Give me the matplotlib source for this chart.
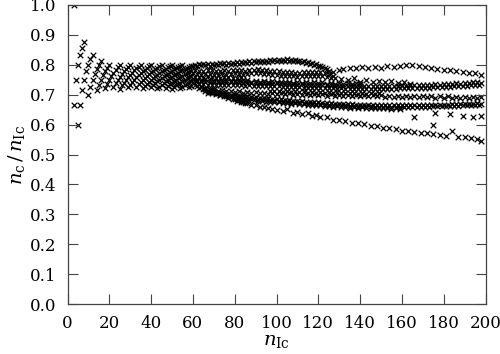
import numpy as np
import matplotlib.pyplot as plt

plt.rcParams['font.family'] = 'DejaVu Serif'
plt.rcParams['mathtext.fontset'] = 'dejavuserif'

# small n_Ic: the n_c counts seen in each column
early_nIc = list(range(3, 60))
early_nc = [
    [2, 3], [3], [3, 4], [4, 5], [5, 6], [6, 7], [7], [7, 8], [8, 9], [9, 10],
    [10], [10, 11], [11, 12], [12, 13], [13], [13, 14], [14, 15], [15, 16], [16], [16, 17],
    [17, 18], [18, 19], [18, 19, 20], [19, 20], [20, 21], [21, 22], [21, 22, 23], [22, 23, 24], [23, 24], [24, 25],
    [24, 25, 26], [25, 26, 27], [26, 27, 28], [26, 27, 28], [27, 28, 29], [28, 29, 30], [29, 30, 31], [29, 30, 31, 32], [30, 31, 32], [31, 32, 33],
    [31, 32, 33, 34], [32, 33, 34, 35], [33, 34, 35, 36], [34, 35, 36], [34, 35, 36, 37], [35, 36, 37, 38], [36, 37, 38, 39], [36, 37, 38, 39, 40], [37, 38, 39, 40], [38, 39, 40, 41],
    [39, 40, 41, 42], [39, 40, 41, 42, 43], [40, 41, 42, 43, 44], [41, 42, 43, 44], [42, 43, 44, 45], [42, 43, 44, 45, 46], [43, 44, 45, 46, 47],
]

# larger n_Ic: the ratio falls into bands
top_x = list(range(60, 126)) + [127, 130, 132, 135, 138, 141, 144, 147, 150, 153, 156, 159, 162,
                                165, 168, 171, 174, 177, 180, 183, 186, 189, 192, 195, 198]
top_y = [0.797, 0.800, 0.795, 0.801, 0.798, 0.803, 0.799, 0.802, 0.797, 0.803,
         0.800, 0.804, 0.798, 0.805, 0.801, 0.806, 0.800, 0.805, 0.802, 0.807,
         0.803, 0.808, 0.804, 0.809, 0.805, 0.810, 0.806, 0.811, 0.807, 0.812,
         0.808, 0.812, 0.809, 0.813, 0.810, 0.814, 0.810, 0.815, 0.811, 0.815,
         0.812, 0.816, 0.813, 0.817, 0.813, 0.818, 0.814, 0.817, 0.813, 0.816,
         0.811, 0.814, 0.809, 0.812, 0.806, 0.809, 0.803, 0.806, 0.800, 0.802,
         0.796, 0.797, 0.791, 0.790, 0.785, 0.780,
         0.776, 0.782, 0.786, 0.789, 0.790, 0.792, 0.788, 0.794, 0.790, 0.795, 0.792, 0.797, 0.799,
         0.798, 0.795, 0.791, 0.789, 0.786, 0.783, 0.781, 0.778, 0.776, 0.774, 0.771, 0.766]

upper_x = list(range(60, 129)) + [131, 134, 137, 140, 143, 146, 149, 152, 155, 158, 161, 164]
upper_y = [0.772, 0.782, 0.768, 0.780, 0.766, 0.779, 0.770, 0.783, 0.769, 0.781,
           0.767, 0.780, 0.766, 0.779, 0.771, 0.782, 0.767, 0.780, 0.770, 0.784,
           0.771, 0.782, 0.768, 0.781, 0.767, 0.780, 0.770, 0.783, 0.772, 0.784,
           0.773, 0.785, 0.774, 0.784, 0.770, 0.782, 0.768, 0.780, 0.767, 0.779,
           0.766, 0.778, 0.764, 0.777, 0.763, 0.776, 0.762, 0.775, 0.761, 0.774,
           0.760, 0.774, 0.761, 0.775, 0.762, 0.776, 0.763, 0.777, 0.764, 0.776,
           0.763, 0.775, 0.761, 0.772, 0.760, 0.769, 0.757, 0.764, 0.755,
           0.752, 0.748, 0.755, 0.744, 0.750, 0.742, 0.746, 0.741, 0.745, 0.739, 0.742, 0.737]

mid_hi_x = list(range(60, 85))
mid_hi_y = [0.752, 0.760, 0.748, 0.759, 0.747, 0.757, 0.751, 0.761, 0.748, 0.758,
            0.747, 0.757, 0.746, 0.756, 0.750, 0.759, 0.749, 0.758, 0.747, 0.757,
            0.746, 0.756, 0.750, 0.758, 0.749]

mid_x = list(range(60, 199))
mid_y = [0.742, 0.734, 0.745, 0.735, 0.746, 0.736, 0.744, 0.733, 0.743, 0.734,
         0.744, 0.734, 0.743, 0.733, 0.742, 0.732, 0.743, 0.733, 0.741, 0.732,
         0.742, 0.732, 0.741, 0.731, 0.740, 0.730, 0.741, 0.731, 0.740, 0.730,
         0.739, 0.730, 0.740, 0.729, 0.738, 0.728, 0.739, 0.729, 0.737, 0.728,
         0.738, 0.728, 0.737, 0.727, 0.736, 0.726, 0.735, 0.726, 0.736, 0.725,
         0.734, 0.725, 0.735, 0.724, 0.733, 0.724, 0.734, 0.723, 0.732, 0.723,
         0.733, 0.723, 0.732, 0.722, 0.731, 0.721, 0.731, 0.722, 0.730, 0.720,
         0.730, 0.721, 0.729, 0.720, 0.730, 0.719, 0.729, 0.720, 0.728, 0.719,
         0.729, 0.719, 0.728, 0.720, 0.729, 0.719, 0.728, 0.720, 0.729, 0.719,
         0.728, 0.720, 0.729, 0.719, 0.729, 0.720, 0.730, 0.720, 0.729, 0.721,
         0.731, 0.721, 0.730, 0.722, 0.732, 0.722, 0.731, 0.723, 0.733, 0.723,
         0.732, 0.724, 0.733, 0.724, 0.734, 0.725, 0.735, 0.725, 0.734, 0.726,
         0.736, 0.726, 0.735, 0.727, 0.737, 0.728, 0.738, 0.728, 0.737, 0.729,
         0.739, 0.730, 0.740, 0.731, 0.741, 0.731, 0.742, 0.732, 0.738]

mid_b_x = list(range(86, 141, 2))
mid_b_y = [0.748, 0.744, 0.747, 0.743, 0.746, 0.742, 0.745, 0.741, 0.744, 0.741,
           0.743, 0.740, 0.744, 0.739, 0.742, 0.739, 0.741, 0.738, 0.742, 0.737,
           0.740, 0.737, 0.739, 0.736, 0.740, 0.736, 0.739, 0.735]

mid_lo_x = list(range(66, 199, 2))
mid_lo_y = [0.722, 0.718, 0.719, 0.714, 0.716, 0.711, 0.713, 0.709, 0.711, 0.707,
            0.709, 0.705, 0.708, 0.704, 0.707, 0.703, 0.706, 0.702, 0.705, 0.701,
            0.704, 0.700, 0.703, 0.699, 0.703, 0.698, 0.702, 0.698, 0.701, 0.697,
            0.701, 0.697, 0.700, 0.696, 0.700, 0.695, 0.699, 0.695, 0.699, 0.694,
            0.698, 0.694, 0.698, 0.693, 0.697, 0.693, 0.697, 0.692, 0.696, 0.692,
            0.696, 0.691, 0.695, 0.691, 0.695, 0.690, 0.694, 0.690, 0.694, 0.689,
            0.693, 0.689, 0.693, 0.688, 0.692, 0.688, 0.691]

mid_lo_b_x = list(range(97, 151, 2))
mid_lo_b_y = [0.714, 0.711, 0.713, 0.710, 0.712, 0.709, 0.711, 0.708, 0.711, 0.707,
              0.710, 0.707, 0.709, 0.706, 0.709, 0.705, 0.708, 0.705, 0.707, 0.704,
              0.707, 0.703, 0.706, 0.703, 0.705, 0.702, 0.705]

low_x = list(range(66, 199))
low_y = [0.712, 0.706, 0.710, 0.704, 0.708, 0.702, 0.706, 0.700, 0.704, 0.699,
         0.702, 0.697, 0.700, 0.695, 0.699, 0.694, 0.697, 0.692, 0.696, 0.691,
         0.694, 0.689, 0.693, 0.688, 0.692, 0.687, 0.690, 0.685, 0.689, 0.684,
         0.688, 0.683, 0.686, 0.682, 0.685, 0.680, 0.684, 0.679, 0.683, 0.678,
         0.682, 0.677, 0.680, 0.676, 0.679, 0.675, 0.678, 0.673, 0.677, 0.672,
         0.676, 0.671, 0.675, 0.670, 0.674, 0.669, 0.673, 0.668, 0.672, 0.667,
         0.671, 0.666, 0.670, 0.665, 0.670, 0.664, 0.669, 0.664, 0.668, 0.663,
         0.668, 0.663, 0.667, 0.662, 0.667, 0.662, 0.666, 0.661, 0.666, 0.661,
         0.666, 0.660, 0.665, 0.660, 0.665, 0.659, 0.665, 0.660, 0.664, 0.659,
         0.664, 0.659, 0.665, 0.659, 0.664, 0.660, 0.665, 0.659, 0.664, 0.660,
         0.665, 0.660, 0.664, 0.659, 0.665, 0.660, 0.666, 0.660, 0.665, 0.661,
         0.666, 0.661, 0.667, 0.661, 0.666, 0.662, 0.667, 0.662, 0.668, 0.663,
         0.668, 0.663, 0.669, 0.664, 0.669, 0.664, 0.670, 0.665, 0.670, 0.665,
         0.671, 0.666, 0.670]

low_b_x = list(range(81, 161, 2))
low_b_y = [0.685, 0.682, 0.683, 0.680, 0.681, 0.678, 0.679, 0.676, 0.677, 0.674,
           0.675, 0.672, 0.673, 0.670, 0.671, 0.668, 0.669, 0.666, 0.667, 0.664,
           0.665, 0.662, 0.663, 0.660, 0.661, 0.658, 0.660, 0.657, 0.659, 0.656,
           0.658, 0.655, 0.657, 0.655, 0.656, 0.654, 0.656, 0.653, 0.655, 0.653]

scatter_x = [166, 175, 176, 183, 189, 194, 198]
scatter_y = [0.624, 0.600, 0.640, 0.634, 0.628, 0.626, 0.630]

bottom_x = [62, 63, 64, 65, 66, 67, 68, 69, 70, 71, 72, 73, 74, 75, 76, 77, 78, 79, 80, 81,
            82, 83, 84, 85, 86, 88, 90, 92, 94, 96, 98, 100, 103, 105, 108, 110, 112, 115, 117, 119,
            121, 124, 127, 130, 133, 136, 139, 142, 145, 148, 151, 154, 157, 160, 163, 166, 169, 172, 175, 178,
            181, 184, 187, 190, 193, 196, 198]
bottom_y = [0.728, 0.722, 0.725, 0.718, 0.720, 0.713, 0.715, 0.709, 0.711, 0.705,
            0.706, 0.700, 0.701, 0.695, 0.696, 0.690, 0.691, 0.686, 0.686, 0.680,
            0.681, 0.676, 0.677, 0.671, 0.672, 0.667, 0.664, 0.660, 0.658, 0.654,
            0.652, 0.649, 0.646, 0.651, 0.640, 0.643, 0.636, 0.638, 0.630, 0.632,
            0.627, 0.624, 0.615, 0.617, 0.611, 0.606, 0.606, 0.601, 0.597, 0.594,
            0.590, 0.588, 0.584, 0.580, 0.578, 0.576, 0.573, 0.571, 0.570, 0.566,
            0.563, 0.577, 0.560, 0.557, 0.556, 0.552, 0.546]

xs, ys = [], []
for n, counts in zip(early_nIc, early_nc):
    for c in counts:
        xs.append(n)
        ys.append(c / n)
for bx, by in [(top_x, top_y), (upper_x, upper_y), (mid_hi_x, mid_hi_y), (mid_x, mid_y),
               (mid_b_x, mid_b_y), (mid_lo_x, mid_lo_y), (mid_lo_b_x, mid_lo_b_y),
               (low_x, low_y), (low_b_x, low_b_y), (scatter_x, scatter_y), (bottom_x, bottom_y)]:
    xs += bx
    ys += by

fig = plt.figure(figsize=(5, 3.54), dpi=100)
ax = fig.add_axes([0.135, 0.141, 0.836, 0.845])
ax.scatter(xs, ys, marker='x', s=16, linewidths=0.9, color='black')

ax.set_xlim(0, 200)
ax.set_ylim(0, 1.0)
ax.set_xticks(np.arange(0, 201, 20))
ax.set_yticks(np.arange(0, 1.01, 0.1))
ax.set_yticklabels(['%.1f' % v for v in np.arange(0, 1.01, 0.1)])
ax.tick_params(direction='in', length=7, width=0.8, top=True, right=True,
               labelsize=12, pad=8, color='#444444')
for sp in ax.spines.values():
    sp.set_color('#444444')
    sp.set_linewidth(0.9)

ax.set_xlabel(r'$n_{\rm Ic}$', fontsize=14, labelpad=0)
ax.set_ylabel(r'$n_{\rm c}\,/\,n_{\rm Ic}$', fontsize=14, labelpad=2)

plt.savefig('out.png')
